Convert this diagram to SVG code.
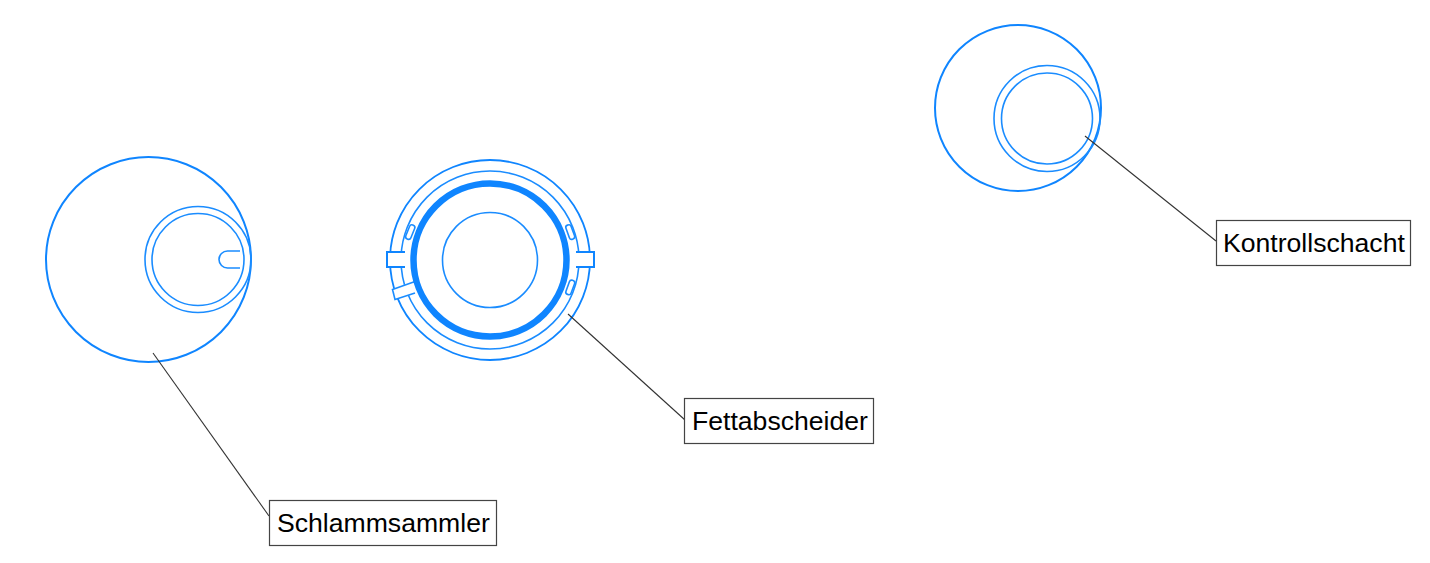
<svg xmlns="http://www.w3.org/2000/svg" width="1430" height="563" viewBox="0 0 1430 563">
<style>
.b{fill:none;stroke:#1a8cff;stroke-width:1.6}
.m{fill:none;stroke:#0f85ff;stroke-width:2}
.o{fill:#fff;stroke:none}
.l{fill:none;stroke:#333;stroke-width:1.1}
.box{fill:#fff;stroke:#444;stroke-width:1.2}
text{font-family:"Liberation Sans",Arial,sans-serif;font-size:26.6px;fill:#000}
</style>
<rect width="1430" height="563" fill="#fff"/>
<g id="schlammsammler-shape">
<circle class="m" cx="148.500" cy="259.500" r="102.500"/>
<circle class="b" cx="198" cy="259.500" r="53"/>
<circle class="b" cx="198" cy="259.500" r="46"/>
<path class="b" d="M240 251H227.500A8.500 8.500 0 0 0 227.500 268H240"/>
</g>
<g id="fettabscheider-shape">
<circle class="m" cx="490" cy="260" r="100" style="stroke-width:1.8"/>
<circle class="b" cx="490" cy="260" r="89"/>
<rect class="o" x="387" y="252" width="18" height="15"/>
<path class="m" d="M405 252H387V267H405"/>
<rect class="o" x="576" y="252" width="18" height="15"/>
<path class="m" d="M576 252H594V267H576"/>
<path class="o" d="M415 281L393 289L396 299L415 293"/>
<path class="b" d="M415 281.500L392.500 289.500L395 299.500L415 293"/>
<rect class="b" x="407.500" y="224.500" width="5.500" height="15" rx="2.500" transform="rotate(22 410 232)"/>
<rect class="b" x="567.500" y="224.500" width="5.500" height="15" rx="2.500" transform="rotate(-20 570.500 232)"/>
<rect class="b" x="567.500" y="280" width="5.500" height="15" rx="2.500" transform="rotate(20 570.500 287.500)"/>
<circle cx="490" cy="260" r="76.500" fill="none" stroke="#0f85ff" stroke-width="6.500"/>
<circle class="b" cx="490" cy="260" r="47.500"/>
</g>
<g id="kontrollschacht-shape">
<circle class="m" cx="1018" cy="108" r="83"/>
<circle class="b" cx="1047" cy="118.500" r="53"/>
<circle class="b" cx="1047" cy="118.500" r="45.500"/>
</g>
<g id="connectors">
<path class="l" d="M153 353L269 516"/>
<path class="l" d="M568 314L685 420"/>
<path class="l" d="M1085 136L1216 241"/>
</g>
<g id="schlammsammler"><rect class="box" x="269.500" y="500.500" width="227" height="45"/><text x="277" y="532">Schlammsammler</text></g>
<g id="fettabscheider"><rect class="box" x="684.500" y="398.500" width="189" height="45"/><text x="692" y="430">Fettabscheider</text></g>
<g id="kontrollschacht"><rect class="box" x="1216.500" y="220.500" width="194" height="45"/><text x="1223" y="252">Kontrollschacht</text></g>
</svg>
